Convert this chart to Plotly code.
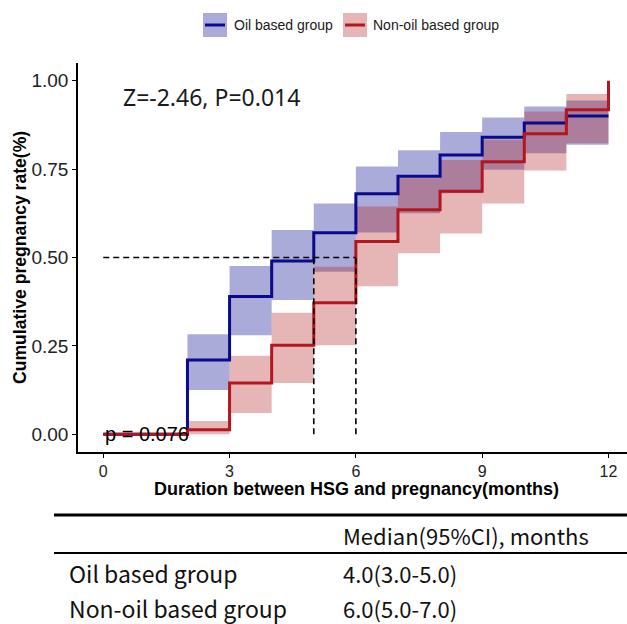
import plotly.graph_objects as go

# ---------------- data ----------------
months = [0, 2, 3, 4, 5, 6, 7, 8, 9, 10, 11, 12]
oil_rate = [0.00, 0.21, 0.39, 0.49, 0.57, 0.68, 0.73, 0.79, 0.84, 0.88, 0.90, 0.90]
oil_lower = [0.00, 0.125, 0.28, 0.38, 0.46, 0.571, 0.625, 0.682, 0.748, 0.795, 0.819, 0.819]
oil_upper = [0.00, 0.283, 0.476, 0.578, 0.653, 0.757, 0.803, 0.855, 0.896, 0.927, 0.944, 0.944]
nonoil_rate = [0.00, 0.013, 0.145, 0.252, 0.372, 0.545, 0.635, 0.687, 0.771, 0.85, 0.918, 1.00]
nonoil_lower = [0.00, 0.00, 0.06, 0.145, 0.252, 0.419, 0.512, 0.568, 0.653, 0.746, 0.823, 0.823]
nonoil_upper = [0.00, 0.038, 0.222, 0.344, 0.474, 0.644, 0.724, 0.776, 0.833, 0.913, 0.962, 0.962]

group_names = ["Oil based group", "Non-oil based group"]
x_ticks = [0, 3, 6, 9, 12]
y_ticks = [0.00, 0.25, 0.50, 0.75, 1.00]
y_tick_labels = ["0.00", "0.25", "0.50", "0.75", "1.00"]
test_text = "Z=-2.46, P=0.014"
pval_text = "p = 0.076"
table_header = "Median(95%CI), months"
table_groups = ["Oil based group", "Non-oil based group"]
table_medians = ["4.0(3.0-5.0)", "6.0(5.0-7.0)"]

# ---------------- styles ----------------
BLUE = "#0a0a8c"
RED = "#b3161f"
BLUE_FILL = "rgba(0,0,139,0.33)"
RED_FILL = "rgba(178,34,34,0.33)"
W, H = 627, 624
L, R, T, B = 78, 0, 63, 172
PW, PH = W - L - R, H - T - B


def px(x):
    return (x - L) / PW


def py(y):
    return (H - B - y) / PH


fig = go.Figure()

series = [
    (oil_rate, oil_lower, oil_upper, BLUE, BLUE_FILL),
    (nonoil_rate, nonoil_lower, nonoil_upper, RED, RED_FILL),
]

# CI bands (blue first, red on top)
for rate, lo, up, col, fcol in series:
    fig.add_trace(go.Scatter(x=months, y=lo, mode="lines", line=dict(width=0, shape="hv"),
                             hoverinfo="skip", showlegend=False))
    fig.add_trace(go.Scatter(x=months, y=up, mode="lines", line=dict(width=0, shape="hv"),
                             fill="tonexty", fillcolor=fcol, hoverinfo="skip", showlegend=False))

# step curves
for rate, lo, up, col, fcol in series:
    fig.add_trace(go.Scatter(x=months, y=rate, mode="lines", line=dict(color=col, width=3, shape="hv"),
                             showlegend=False))

# median lines derived from the data
medians = []
for rate in (oil_rate, nonoil_rate):
    medians.append(next(t for t, v in zip(months, rate) if v >= 0.5))
dash_style = dict(color="black", width=1.6, dash="6px,4px")
fig.add_trace(go.Scatter(x=[0, max(medians)], y=[0.5, 0.5], mode="lines", line=dash_style,
                         showlegend=False, hoverinfo="skip"))
for m in medians:
    fig.add_trace(go.Scatter(x=[m, m], y=[0, 0.5], mode="lines", line=dash_style,
                             showlegend=False, hoverinfo="skip"))

annotations = []
shapes = []

# in-plot texts
annotations.append(dict(x=2.57, y=0.955, xref="x", yref="y", text=test_text, showarrow=False,
                        xanchor="center", yanchor="middle",
                        font=dict(family="Noto Sans", size=23, color="#1a1a1a")))
annotations.append(dict(x=0, y=0, xref="x", yref="y", text=pval_text, showarrow=False,
                        xanchor="left", yanchor="middle",
                        font=dict(family="Liberation Sans, Arial", size=20, color="black")))

# axis titles
annotations.append(dict(x=px(356), y=py(489), xref="paper", yref="paper",
                        text="<b>Duration between HSG and pregnancy(months)</b>", showarrow=False,
                        xanchor="center", yanchor="middle",
                        font=dict(family="Liberation Sans, Arial", size=18, color="black")))
annotations.append(dict(x=px(20), y=py(258), xref="paper", yref="paper",
                        text="<b>Cumulative pregnancy rate(%)</b>", showarrow=False, textangle=-90,
                        xanchor="center", yanchor="middle",
                        font=dict(family="Liberation Sans, Arial", size=17.6, color="black")))

# legend (top)
leg_items = [(203, 232, group_names[0], BLUE, BLUE_FILL), (343, 371, group_names[1], RED, RED_FILL)]
for bx, tx, name, col, fcol in leg_items:
    shapes.append(dict(type="rect", xref="paper", yref="paper", x0=px(bx), x1=px(bx + 24),
                       y0=py(37), y1=py(13), fillcolor=fcol, line=dict(width=0)))
    shapes.append(dict(type="line", xref="paper", yref="paper", x0=px(bx + 2), x1=px(bx + 22),
                       y0=py(25), y1=py(25), line=dict(color=col, width=3)))
    annotations.append(dict(x=px(tx), y=py(25), xref="paper", yref="paper", text=name,
                            showarrow=False, xanchor="left", yanchor="middle",
                            font=dict(family="Liberation Sans, Arial", size=14, color="#1a1a1a")))

# table
shapes.append(dict(type="line", xref="paper", yref="paper", x0=px(54), x1=px(627),
                   y0=py(515), y1=py(515), line=dict(color="black", width=3)))
shapes.append(dict(type="line", xref="paper", yref="paper", x0=px(54), x1=px(627),
                   y0=py(553), y1=py(553), line=dict(color="black", width=2)))
tfont = dict(family="Noto Sans CJK SC", size=22, color="#111")
gfont = dict(family="Noto Sans CJK SC", size=23, color="#111")
annotations.append(dict(x=px(341), y=py(535), xref="paper", yref="paper", text=table_header,
                        showarrow=False, xanchor="left", yanchor="middle", font=tfont))
for i, (g, m) in enumerate(zip(table_groups, table_medians)):
    yy = 573 + 35 * i
    annotations.append(dict(x=px(67), y=py(yy), xref="paper", yref="paper", text=g,
                            showarrow=False, xanchor="left", yanchor="middle", font=gfont))
    annotations.append(dict(x=px(341), y=py(yy), xref="paper", yref="paper", text=m,
                            showarrow=False, xanchor="left", yanchor="middle", font=tfont))

fig.update_layout(
    width=W, height=H,
    margin=dict(l=L, r=R, t=T, b=B, pad=0),
    paper_bgcolor="white", plot_bgcolor="white",
    showlegend=False,
    annotations=annotations, shapes=shapes,
    font=dict(family="Liberation Sans, Arial", color="#222"),
)
fig.update_xaxes(range=[-0.6, 12.44], tickvals=x_ticks, ticktext=[str(t) for t in x_ticks],
                 showgrid=False, zeroline=False, showline=True, linecolor="black", linewidth=1.6,
                 ticks="outside", ticklen=4, tickwidth=1.4, tickcolor="black",
                 tickfont=dict(size=16, color="#222"))
fig.update_yaxes(range=[-0.05, 1.05], tickvals=y_ticks, ticktext=y_tick_labels,
                 showgrid=False, zeroline=False, showline=True, linecolor="black", linewidth=1.6,
                 ticks="outside", ticklen=4, tickwidth=1.4, tickcolor="black",
                 tickfont=dict(size=19, color="#222"))

fig.write_html("out.html", config={"displayModeBar": False},
               post_script="document.body.style.margin='0px';")
